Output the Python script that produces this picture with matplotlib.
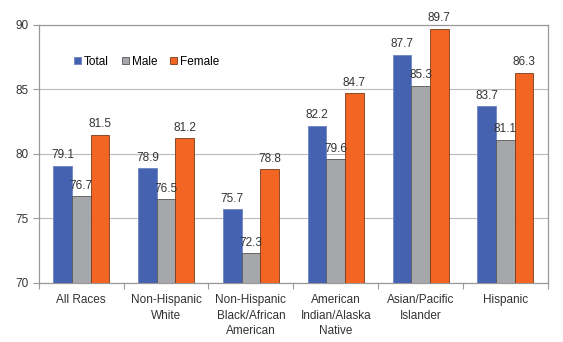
import matplotlib.pyplot as plt
import numpy as np

categories = ['All Races', 'Non-Hispanic\nWhite', 'Non-Hispanic\nBlack/African\nAmerican',
              'American\nIndian/Alaska\nNative', 'Asian/Pacific\nIslander', 'Hispanic']
total = [79.1, 78.9, 75.7, 82.2, 87.7, 83.7]
male = [76.7, 76.5, 72.3, 79.6, 85.3, 81.1]
female = [81.5, 81.2, 78.8, 84.7, 89.7, 86.3]
series_names = ['Total', 'Male', 'Female']

plt.rcParams['font.family'] = ['Liberation Sans', 'DejaVu Sans']

fig = plt.figure(figsize=(5.63, 3.42), dpi=100)
ax = fig.add_axes([0.069, 0.173, 0.904, 0.754])

x = np.arange(len(categories))
w = 0.22
colors = ['#4462b0', '#a5a7aa', '#f26522']
edges = ['#6d86c4', '#555555', '#7a3a1a']

for i, (vals, name) in enumerate(zip([total, male, female], series_names)):
    pos = x + (i - 1) * w
    ax.bar(pos, vals, w, bottom=0, color=colors[i], edgecolor=edges[i],
           linewidth=0.6, label=name, zorder=3)
    for p, v in zip(pos, vals):
        ax.text(p, v + 0.35, f'{v:.1f}', ha='center', va='bottom',
                fontsize=8.5, color='#333333', zorder=4)

ax.set_ylim(70, 90)
ax.set_xlim(-0.5, len(categories) - 0.5)
ax.set_yticks([70, 75, 80, 85, 90])
ax.tick_params(axis='y', labelsize=8.5, length=4, color='#999999', labelcolor='#333333')
ax.set_xticks(np.arange(len(categories) + 1) - 0.5, minor=False)
ax.set_xticklabels([])
ax.set_xticks(x, minor=True)
ax.set_xticklabels(categories, minor=True, fontsize=8.5, color='#333333', linespacing=1.4)
ax.tick_params(axis='x', which='major', length=4, color='#999999')
ax.tick_params(axis='x', which='minor', length=0, pad=8)

ax.grid(axis='y', color='#bbbbbb', linewidth=0.8, zorder=0)
for s in ax.spines.values():
    s.set_color('#999999')
    s.set_linewidth(0.9)

ax.legend(loc='upper left', bbox_to_anchor=(0.069, 0.88), ncol=3, frameon=False,
          fontsize=8.5, handlelength=0.6, handleheight=0.6, handletextpad=0.25,
          columnspacing=1.1, borderpad=0, borderaxespad=0)

fig.savefig('out.png', dpi=100)
